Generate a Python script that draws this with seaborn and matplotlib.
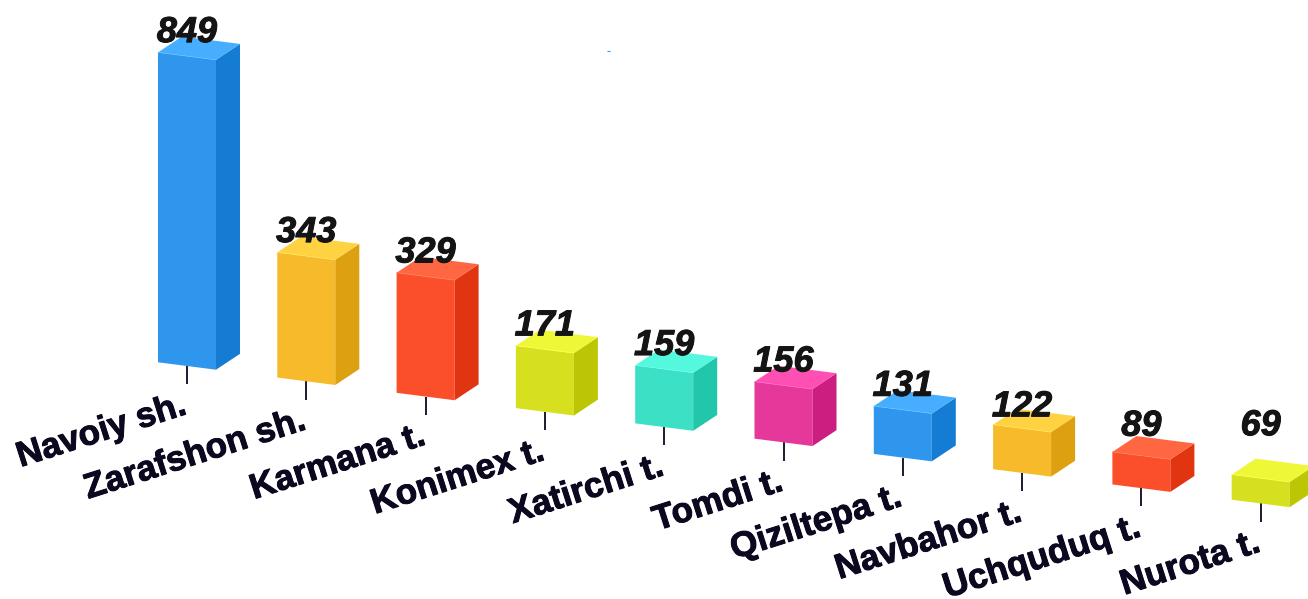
import matplotlib
matplotlib.use('Agg')
import matplotlib.pyplot as plt
import matplotlib.patheffects as pe
from matplotlib.colors import to_rgb
from matplotlib.patches import Polygon
from matplotlib.transforms import Affine2D
import seaborn as sns
import pandas as pd

districts = ['Navoiy sh.', 'Zarafshon sh.', 'Karmana t.', 'Konimex t.', 'Xatirchi t.',
             'Tomdi t.', 'Qiziltepa t.', 'Navbahor t.', 'Uchquduq t.', 'Nurota t.']
counts = [849, 343, 329, 171, 159, 156, 131, 122, 89, 69]
bar_colors = ['#2F96EE', '#F7BA2A', '#FA4F2A', '#D7E01E', '#3CE0C4', '#E6389A',
              '#2F96EE', '#F7BA2A', '#FA4F2A', '#D7E01E']
# extra lift of the number above the bar, px
label_lift = [14, 14, 14, 14, 14, 14, 14, 12, 20, 43]

PX_PER_UNIT = 0.365
PX_PER_BAR = 119.3
FIRST_BAR_PX = 187
BASE_PX = 366
W, H = 1308, 599
TEXT_DARK = '#0C0820'

sns.set_theme(style='white')
plt.rcParams['font.family'] = ['Liberation Sans', 'DejaVu Sans']


def shade(color, delta):
    return tuple(min(max(c + delta / 255, 0), 1) for c in to_rgb(color))


df = pd.DataFrame({'district': districts, 'count': counts})

fig = plt.figure(figsize=(W / 100, H / 100), dpi=100)
ax = fig.add_axes([0, 0, 1, 1])
sns.barplot(data=df, x='district', y='count', hue='district', palette=bar_colors,
            order=districts, hue_order=districts, width=58 / PX_PER_BAR,
            saturation=1, linewidth=0, legend=False, ax=ax)

ax.set_xlim(-FIRST_BAR_PX / PX_PER_BAR, (W - FIRST_BAR_PX) / PX_PER_BAR)
ax.set_ylim(-(H - BASE_PX) / PX_PER_UNIT, BASE_PX / PX_PER_UNIT)
ax.axis('off')

# whole chart leans: baseline falls to the right
slope = 0.128 * PX_PER_BAR / PX_PER_UNIT
tilt = Affine2D.from_values(1, -slope, 0, 1, 0, 0) + ax.transData

depth_x = 24 / PX_PER_BAR
depth_y = 52

for i, bar in enumerate(ax.patches):
    x0 = bar.get_x()
    x1 = x0 + bar.get_width()
    top = bar.get_height()
    color = bar_colors[i]
    bar.set_transform(tilt)
    bar.set_zorder(3)

    side = [(x1, 0), (x1 + depth_x, depth_y), (x1 + depth_x, top + depth_y), (x1, top)]
    lid = [(x0, top), (x0 + depth_x, top + depth_y), (x1 + depth_x, top + depth_y), (x1, top)]
    ax.add_patch(Polygon(side, closed=True, fc=shade(color, -26), lw=0, transform=tilt, zorder=3))
    ax.add_patch(Polygon(lid, closed=True, fc=shade(color, 24), lw=0, transform=tilt, zorder=3))
    # pale seam where the lid meets the front
    ax.plot([x0, x1], [top, top], color=shade(color, 45), lw=0.5, transform=tilt, zorder=4)

    # tick under the bar
    ax.plot([i, i], [0, -50], color=TEXT_DARK, lw=1.3, transform=tilt, zorder=2,
            solid_capstyle='butt')

    ax.text(i + 1 / PX_PER_BAR, -80 - 50, districts[i], transform=tilt, rotation=17.7,
            rotation_mode='anchor', ha='right', va='baseline', fontsize=25.3,
            fontweight='bold', color=TEXT_DARK, zorder=5,
            path_effects=[pe.withStroke(linewidth=0.7, foreground=TEXT_DARK)])
    ax.text(i, counts[i] + label_lift[i] / PX_PER_UNIT, str(counts[i]), transform=tilt,
            ha='center', va='baseline', fontsize=26, fontweight='bold', fontstyle='italic',
            color='#141414', zorder=5,
            path_effects=[pe.withStroke(linewidth=0.7, foreground='#141414')])

# stray blue speck near the top of the original
ax.plot([606.5 / W, 610 / W], [1 - 50.5 / H, 1 - 50.5 / H], color='#2F96EE', lw=0.8,
        transform=ax.transAxes, solid_capstyle='butt')

fig.savefig('out.png', dpi=100, facecolor='white')
plt.close(fig)
